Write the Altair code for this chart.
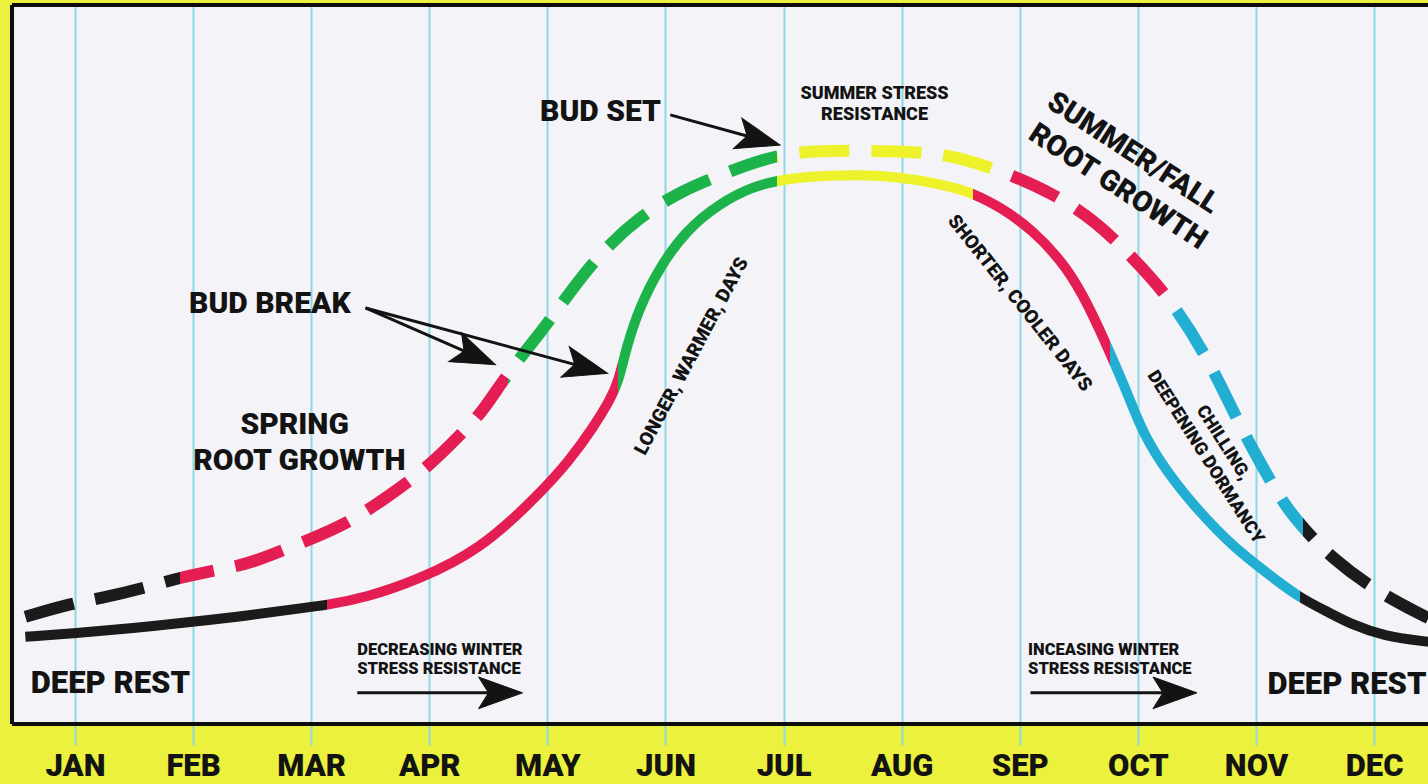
import math
import json
import altair as alt
import pandas as pd

# ---------------- data ----------------
months = ["JAN", "FEB", "MAR", "APR", "MAY", "JUN",
          "JUL", "AUG", "SEP", "OCT", "NOV", "DEC"]

# lower (solid) curve: shoot activity, month index (0 = JAN) vs level (0-100)
solid_month = [-0.42, 0.0, 0.49, 1.0, 1.48, 1.91, 2.13, 2.47, 2.90, 3.43,
               3.91, 4.19, 4.39, 4.53, 4.60, 4.67, 4.78, 4.95, 5.18, 5.46,
               5.74, 5.94, 6.14, 6.48, 6.82, 7.16, 7.41, 7.60, 7.83, 8.11,
               8.40, 8.59, 8.76, 8.91, 9.04, 9.25, 9.53, 9.81, 10.09, 10.37,
               10.63, 10.80, 11.08, 11.46]
solid_level = [12.0, 12.5, 13.2, 14.1, 15.0, 16.0, 16.4, 17.5, 19.9, 24.1,
               31.5, 36.6, 41.2, 45.0, 47.4, 52.4, 57.9, 63.5, 68.7, 72.4,
               74.7, 75.5, 76.0, 76.3, 76.3, 75.6, 74.7, 73.8, 71.9, 68.7,
               63.5, 57.9, 51.7, 46.0, 40.4, 34.8, 29.2, 24.5, 20.9, 17.4,
               15.3, 13.8, 12.1, 11.3]
solid_breaks = [2.13, 4.60, 5.94, 7.60, 8.76, 10.37]
solid_phases = ["rest", "root", "shoot", "summer", "root", "chill", "rest"]

# upper (dashed) curve: root activity
dashed_month = [-0.42, -0.02, 0.20, 0.61, 0.89, 1.33, 1.51, 1.92, 2.29, 2.65,
                3.01, 3.30, 3.45, 3.67, 3.96, 4.19, 4.45, 4.78, 5.12, 5.52,
                5.94, 6.31, 6.73, 7.16, 7.41, 7.83, 8.28, 8.65, 8.95, 9.25,
                9.59, 9.85, 10.06, 10.25, 10.40, 10.63, 11.03, 11.46]
dashed_level = [14.8, 16.7, 17.3, 18.9, 20.3, 21.7, 22.4, 25.1, 27.6, 31.5,
                35.9, 40.8, 43.3, 48.9, 54.7, 60.0, 65.5, 70.5, 74.0, 76.7,
                79.2, 79.7, 79.7, 79.5, 79.1, 77.0, 73.8, 69.8, 64.9, 59.6,
                51.0, 41.8, 35.5, 30.1, 27.2, 23.1, 18.2, 14.6]
dashed_breaks = [0.89, 3.67, 5.94, 7.80, 9.27, 10.40]
dashed_phases = ["rest", "root", "shoot", "summer", "root", "chill", "rest"]

# annotations (centre position in month / level units)
label_text = ["BUD SET", "SUMMER STRESS", "RESISTANCE", "SUMMER/FALL", "ROOT GROWTH",
              "BUD BREAK", "SPRING", "ROOT GROWTH", "DEEP REST", "DEEP REST",
              "LONGER, WARMER, DAYS", "SHORTER, COOLER DAYS",
              "CHILLING,", "DEEPENING DORMANCY"]
label_month = [4.45, 6.77, 6.77, 8.96, 8.83, 1.65, 1.86, 1.90, 0.30, 10.77,
               5.22, 8.00, 9.72, 9.57]
label_level = [85.1, 87.6, 84.7, 79.4, 74.7, 58.4, 41.5, 36.5, 5.4, 5.3,
               51.1, 58.5, 39.0, 37.0]
label_size = [30, 18, 18, 29, 29, 30, 30, 30, 31, 31, 19, 19, 18, 18]
label_angle = [0, 0, 0, 33, 33, 0, 0, 0, 0, 0, 298, 51.5, 57.5, 57.5]

note_text = ["DECREASING WINTER", "STRESS RESISTANCE",
             "INCEASING WINTER", "STRESS RESISTANCE"]
note_month = [2.39, 2.39, 8.07, 8.07]
note_level = [10.2, 7.5, 10.2, 7.5]

# arrows: start and tip
arrow_start_month = [5.04, 2.46, 2.46, 2.39, 8.09]
arrow_start_level = [84.7, 57.8, 57.8, 4.2, 4.2]
arrow_tip_month = [5.97, 3.56, 4.51, 3.79, 9.50]
arrow_tip_level = [80.5, 49.9, 48.7, 4.2, 4.2]

# ---------------- styling ----------------
PHASE_COLORS = {"rest": "#1b1b1b", "root": "#e41d52", "shoot": "#1db34b",
                "summer": "#edf22b", "chill": "#22aed2"}
FONT = "Roboto, 'DejaVu Sans Condensed', sans-serif"
WEIGHT = 900
INK = "#131313"
GRID = "#8dd8e2"

W, H = 1416, 718
XMIN, XMAX = -0.533, 11.456
PXM = W / (XMAX - XMIN)
PXL = H / 100.0


def phase_gradient(xs, breaks, phases):
    x0, x1 = xs[0], xs[-1]
    cols = [PHASE_COLORS[p] for p in phases]
    stops = [alt.GradientStop(color=cols[0], offset=0)]
    for b, c_prev, c_next in zip(breaks, cols[:-1], cols[1:]):
        o = (b - x0) / (x1 - x0)
        stops.append(alt.GradientStop(color=c_prev, offset=o))
        stops.append(alt.GradientStop(color=c_next, offset=o))
    stops.append(alt.GradientStop(color=cols[-1], offset=1))
    return alt.LinearGradient(gradient="linear", stops=stops, x1=0, x2=1, y1=0, y2=0)


label_expr = json.dumps(months) + "[datum.value]"
x_axis = alt.Axis(values=list(range(12)), labelExpr=label_expr, title=None,
                  grid=True, gridColor=GRID, gridWidth=2, gridOpacity=1,
                  domain=False, ticks=True, tickColor=GRID, tickWidth=2, tickSize=22,
                  labelFont=FONT, labelFontSize=31, labelFontWeight=WEIGHT,
                  labelColor=INK, labelPadding=37, labelBaseline="bottom",
                  labelAngle=0, labelFlush=False, labelOverlap=False)
XS = alt.Scale(domain=[XMIN, XMAX], nice=False, zero=False)
YS = alt.Scale(domain=[0, 100], nice=False, zero=False)
X = alt.X("month:Q", scale=XS, axis=x_axis)
Y = alt.Y("level:Q", scale=YS, axis=None)

solid_df = pd.DataFrame({"month": solid_month, "level": solid_level})
dashed_df = pd.DataFrame({"month": dashed_month, "level": dashed_level})

solid = alt.Chart(solid_df).mark_line(
    stroke=phase_gradient(solid_month, solid_breaks, solid_phases),
    strokeWidth=10, interpolate="basis", strokeCap="butt"
).encode(x=X, y=Y)

dashed = alt.Chart(dashed_df).mark_line(
    stroke=phase_gradient(dashed_month, dashed_breaks, dashed_phases),
    strokeWidth=12, interpolate="basis", strokeCap="butt", strokeDash=[50, 22]
).encode(x=X, y=Y)

labels_df = pd.DataFrame({"month": label_month, "level": label_level, "text": label_text,
                          "size": label_size, "angle": label_angle})
labels = alt.Chart(labels_df).mark_text(
    font=FONT, fontWeight=WEIGHT, color=INK, align="center", baseline="middle"
).encode(x=X, y=Y, text="text:N",
         size=alt.Size("size:Q", scale=None, legend=None),
         angle=alt.Angle("angle:Q", scale=None))

notes_df = pd.DataFrame({"month": note_month, "level": note_level, "text": note_text})
notes = alt.Chart(notes_df).mark_text(
    font=FONT, fontWeight=WEIGHT, color=INK, align="left", baseline="middle", fontSize=16.5
).encode(x=X, y=Y, text="text:N")

# arrow geometry (heads are centred half a head-length behind the tip)
HEAD = 44
rows = []
for sm, sl, tm, tl in zip(arrow_start_month, arrow_start_level, arrow_tip_month, arrow_tip_level):
    dx = (tm - sm) * PXM
    dy = -(tl - sl) * PXL
    d = math.hypot(dx, dy)
    ux, uy = dx / d, dy / d
    cm = tm - (HEAD / 2) * ux / PXM
    cl = tl + (HEAD / 2) * uy / PXL
    ang = math.degrees(math.atan2(dy, dx)) % 360
    rows.append({"month": sm, "level": sl, "month2": cm, "level2": cl,
                 "hm": cm, "hl": cl, "angle": ang})
arrows_df = pd.DataFrame(rows)

shafts = alt.Chart(arrows_df).mark_rule(color=INK, strokeWidth=3).encode(
    x=X, y=Y, x2="month2:Q", y2="level2:Q")

heads = alt.Chart(arrows_df).mark_point(
    shape="M -1 -0.72 L 1 0 L -1 0.72 L -0.55 0 Z", filled=True, fill=INK,
    stroke=INK, strokeWidth=1, opacity=1, size=HEAD * HEAD
).encode(x=alt.X("hm:Q", scale=XS, axis=x_axis),
         y=alt.Y("hl:Q", scale=YS, axis=None),
         angle=alt.Angle("angle:Q", scale=None))

frame_df = pd.DataFrame({"k": [0]})
top_border = alt.Chart(frame_df).mark_rule(color="#0d0d0d", strokeWidth=4).encode(
    x=alt.value(0), x2=alt.value(W), y=alt.value(0))
left_border = alt.Chart(frame_df).mark_rule(color="#0d0d0d", strokeWidth=4).encode(
    x=alt.value(0), y=alt.value(0), y2=alt.value(H + 1))
bottom_border = alt.Chart(frame_df).mark_rule(color="#0d0d0d", strokeWidth=4).encode(
    x=alt.value(0), x2=alt.value(W), y=alt.value(H + 1))

chart = alt.layer(
    solid, dashed, labels, notes, shafts, heads, top_border, left_border, bottom_border
).properties(
    width=W, height=H,
    padding={"left": 12, "top": 5, "right": 0, "bottom": 61},
    autosize=alt.AutoSizeParams(type="none"),
    background="#ebf13c",
).configure_view(fill="#f3f3f8", strokeWidth=0)

chart.save("out.html", embed_options={"renderer": "svg", "actions": False})
